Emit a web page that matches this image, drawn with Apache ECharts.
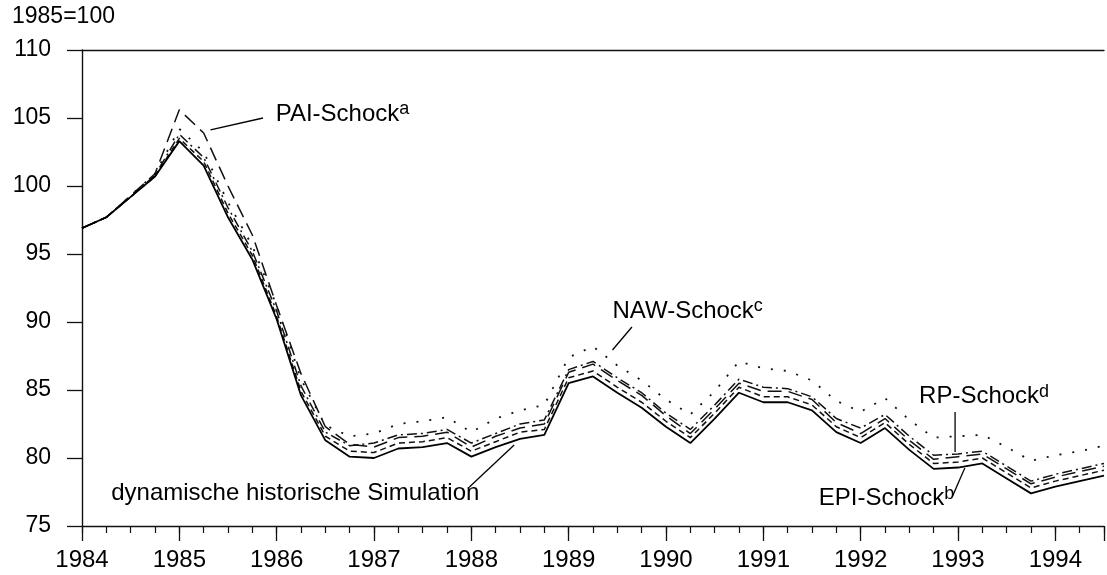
<!DOCTYPE html>
<html><head><meta charset="utf-8">
<script src="https://cdn.jsdelivr.net/npm/echarts@6/dist/echarts.min.js"></script>
<style>html,body{margin:0;padding:0;background:#fff}#c{width:1107px;height:575px}</style>
</head><body><div id="c"></div>
<script>
// Quarterly observation dates
const quarters = [
  '1984Q1','1984Q2','1984Q3','1984Q4',
  '1985Q1','1985Q2','1985Q3','1985Q4',
  '1986Q1','1986Q2','1986Q3','1986Q4',
  '1987Q1','1987Q2','1987Q3','1987Q4',
  '1988Q1','1988Q2','1988Q3','1988Q4',
  '1989Q1','1989Q2','1989Q3','1989Q4',
  '1990Q1','1990Q2','1990Q3','1990Q4',
  '1991Q1','1991Q2','1991Q3','1991Q4',
  '1992Q1','1992Q2','1992Q3','1992Q4',
  '1993Q1','1993Q2','1993Q3','1993Q4',
  '1994Q1','1994Q2','1994Q3'
];
// dynamische historische Simulation (solid)
const simulation = [
  96.9, 97.7, 99.2, 100.7,
  103.3, 101.5, 97.7, 94.6,
  90.2, 84.6, 81.3, 80.1,
  80.0, 80.7, 80.8, 81.1,
  80.1, 80.8, 81.4, 81.7,
  85.5, 86.0, 84.8, 83.7,
  82.3, 81.1, 82.9, 84.8,
  84.1, 84.1, 83.5, 81.9,
  81.1, 82.2, 80.6, 79.2,
  79.3, 79.6, 78.5, 77.4,
  77.9, 78.3, 78.7
];
// PAI-Schock (long dash)
const paiShock = [
  96.9, 97.7, 99.3, 100.9,
  105.6, 103.9, 100.0, 96.4,
  91.2, 86.2, 82.3, 81.0,
  80.8, 81.5, 81.6, 81.9,
  80.8, 81.6, 82.2, 82.5,
  86.3, 86.9, 85.7, 84.6,
  83.1, 81.8, 83.6, 85.5,
  84.9, 84.9, 84.3, 82.6,
  81.8, 82.9, 81.3, 79.9,
  80.1, 80.3, 79.2, 78.1,
  78.6, 79.0, 79.4
];
// EPI-Schock (short dash)
const epiShock = [
  96.9, 97.7, 99.2, 100.7,
  103.5, 101.8, 98.0, 94.9,
  90.4, 84.9, 81.6, 80.5,
  80.4, 81.1, 81.2, 81.5,
  80.5, 81.2, 81.9, 82.1,
  85.9, 86.4, 85.2, 84.1,
  82.7, 81.5, 83.3, 85.2,
  84.5, 84.5, 83.9, 82.3,
  81.5, 82.6, 81.0, 79.6,
  79.7, 80.0, 78.9, 77.8,
  78.3, 78.7, 79.1
];
// NAW-Schock (dotted)
const nawShock = [
  96.9, 97.7, 99.3, 100.9,
  104.2, 102.5, 98.8, 95.6,
  91.2, 85.8, 82.4, 81.6,
  81.8, 82.5, 82.7, 83.0,
  81.9, 82.9, 83.5, 83.9,
  87.4, 88.2, 86.8, 85.7,
  84.3, 83.2, 84.9, 87.1,
  86.6, 86.4, 85.7, 84.2,
  83.4, 84.4, 82.8, 81.5,
  81.6, 81.7, 80.8, 79.8,
  80.2, 80.5, 80.9
];
// RP-Schock (dash-dot)
const rpShock = [
  96.9, 97.7, 99.2, 100.8,
  103.8, 102.1, 98.4, 95.2,
  90.8, 85.3, 81.9, 80.9,
  81.1, 81.7, 81.8, 82.1,
  81.1, 81.8, 82.5, 82.8,
  86.5, 87.1, 85.9, 84.8,
  83.3, 82.1, 83.9, 85.8,
  85.2, 85.1, 84.5, 82.9,
  82.2, 83.2, 81.6, 80.2,
  80.3, 80.5, 79.4, 78.3,
  78.8, 79.2, 79.6
];
const yearTicks = [1984,1985,1986,1987,1988,1989,1990,1991,1992,1993,1994];
const unitLabel = '1985=100';

// annotation anchors in data units: [textX, textY], leader [x1,y1,x2,y2]
const annotations = [
  {main:'PAI-Schock', sup:'a', at:[1985.99, 105.3], leader:[1985.32, 104.12, 1985.86, 105.0]},
  {main:'NAW-Schock', sup:'c', at:[1989.45, 90.8], leader:[1989.45, 87.94, 1989.65, 89.63]},
  {main:'RP-Schock', sup:'d', at:[1992.6, 84.5], leader:[1992.97, 83.38, 1992.97, 80.44]},
  {main:'EPI-Schock', sup:'b', at:[1991.57, 77.0], leader:[1993.07, 79.26, 1992.94, 77.13]},
  {main:'dynamische historische Simulation', sup:'', at:[1984.3, 77.43], leader:[1987.98, 77.87, 1988.44, 80.96]}
];

const FONT = '"Liberation Sans", Arial, sans-serif';
function toX(q){ const y = parseInt(q.slice(0,4)); const n = parseInt(q.slice(5)); return y + (n-1)/4; }
function pairs(vals){ return quarters.map((q,i)=>[toX(q), vals[i]]); }

const chart = echarts.init(document.getElementById('c'), null, {renderer:'canvas'});
const axisCol = '#111';
const base = {type:'line', symbol:'none', smooth:false, animation:false, z:2};
chart.setOption({
  animation:false,
  backgroundColor:'#fff',
  grid:{left:82, top:50, bottom:49, right:-6, containLabel:false},
  xAxis:[
    {type:'value', min:1984, max:1994.5, interval:1, position:'bottom',
     axisLine:{show:true, onZero:false, lineStyle:{color:axisCol, width:1.4}},
     axisTick:{show:true, length:15, lineStyle:{color:axisCol, width:1.3}},
     minorTick:{show:false},
     splitLine:{show:false},
     axisLabel:{fontSize:24, fontFamily:FONT, color:'#000', margin:22,
       formatter:v=> yearTicks.indexOf(v) >= 0 ? String(v) : ''}},
    {type:'value', min:1984, max:1994.5, interval:0.25, position:'bottom',
     axisLine:{show:false, onZero:false},
     axisTick:{show:true, length:7, lineStyle:{color:axisCol, width:1.2}},
     splitLine:{show:false}, axisLabel:{show:false}},
    {type:'value', min:1984, max:1994.5, position:'top',
     axisLine:{show:true, onZero:false, lineStyle:{color:axisCol, width:1.4}},
     axisTick:{show:false}, splitLine:{show:false}, axisLabel:{show:false}}
  ],
  yAxis:{type:'value', min:75, max:110, interval:5,
    axisLine:{show:true, lineStyle:{color:axisCol, width:1.4}},
    axisTick:{show:true, length:15, lineStyle:{color:axisCol, width:1.3}},
    splitLine:{show:false},
    axisLabel:{fontSize:23, fontFamily:FONT, color:'#000', margin:31}},
  series:[
    Object.assign({}, base, {name:'NAW-Schock', data:pairs(nawShock), lineStyle:{color:'#111', width:1.8, type:[2,11]}}),
    Object.assign({}, base, {name:'PAI-Schock', data:pairs(paiShock), lineStyle:{color:'#111', width:1.5, type:[14,7]}}),
    Object.assign({}, base, {name:'RP-Schock', data:pairs(rpShock), lineStyle:{color:'#111', width:1.5, type:[10,4,2,4]}}),
    Object.assign({}, base, {name:'EPI-Schock', data:pairs(epiShock), lineStyle:{color:'#111', width:1.5, type:[6,4]}}),
    Object.assign({}, base, {name:'dynamische historische Simulation', data:pairs(simulation), lineStyle:{color:'#000', width:1.8, type:'solid'}, z:3})
  ]
});

const gfx = [{type:'text', left:12, top:5, style:{text:unitLabel, fontSize:23, fontFamily:FONT, fill:'#000'}}];
annotations.forEach(a=>{
  const p = chart.convertToPixel({gridIndex:0}, a.at);
  const l1 = chart.convertToPixel({gridIndex:0}, [a.leader[0], a.leader[1]]);
  const l2 = chart.convertToPixel({gridIndex:0}, [a.leader[2], a.leader[3]]);
  gfx.push({type:'line', shape:{x1:l1[0], y1:l1[1], x2:l2[0], y2:l2[1]}, style:{stroke:'#000', lineWidth:1.3}, z:10});
  gfx.push({type:'text', x:p[0], y:p[1], z:11,
    style:{text: a.sup ? '{m|'+a.main+'}{s|'+a.sup+'}' : '{m|'+a.main+'}',
      verticalAlign:'middle', align:'left',
      rich:{m:{fontSize:24, fontFamily:FONT, fill:'#000', lineHeight:28},
            s:{fontSize:18, fontFamily:FONT, fill:'#000', lineHeight:6, verticalAlign:'top'}}}});
});
chart.setOption({graphic:gfx});
</script></body></html>
